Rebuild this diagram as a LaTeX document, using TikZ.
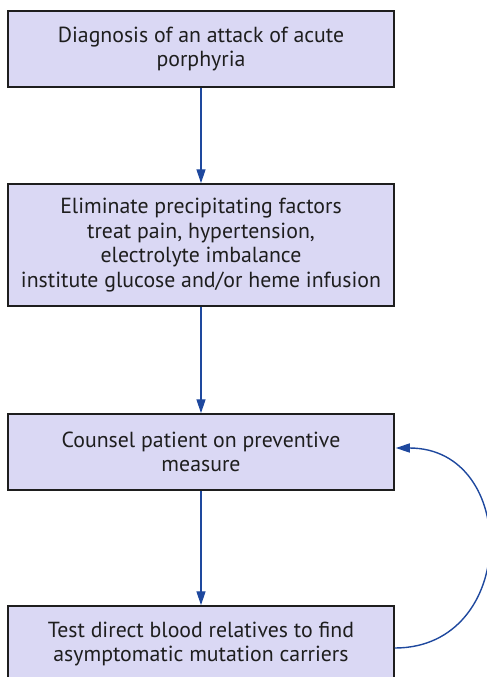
\documentclass[tikz,border=0pt]{standalone}
\usepackage{fontspec}
\setmainfont{PT Sans}
\usepackage{xcolor}
\usepackage{tikz}
\usetikzlibrary{calc}
\usetikzlibrary{arrows.meta}
\definecolor{boxfill}{RGB}{218,216,244}
\definecolor{flowblue}{RGB}{30,72,158}
\definecolor{inkgray}{RGB}{30,30,30}
\tikzset{stagebox/.style={draw=inkgray, line width=1.5pt, fill=boxfill, text=inkgray, minimum width=386pt, align=center, inner sep=0pt, font=\fontsize{21.8}{24.5}\selectfont}}
\tikzset{flow/.style={flowblue, line width=1.4pt, -{Triangle[length=14pt,width=9pt]}}}

\begin{document}
\begin{tikzpicture}[x=1pt,y=1pt]
\useasboundingbox (0,0) rectangle (487,-677);
\node[stagebox, minimum height=76pt] (diag) at (201,-49) {Diagnosis of an attack of acute\\porphyria};
\node[stagebox, minimum height=122pt] (elim) at (201,-245) {Eliminate precipitating factors\\treat pain, hypertension,\\electrolyte imbalance\\institute glucose and/or heme infusion};
\node[stagebox, minimum height=76pt] (coun) at (201,-452) {Counsel patient on preventive\\measure};
\node[stagebox, minimum height=76pt] (test) at (201,-644) {Test direct blood relatives to find\\asymptomatic mutation carriers};

\draw[flow] (diag) -- (elim);
\draw[flow] (elim) -- (coun);
\draw[flow] (coun) -- (test);
% feedback loop on the right
\draw[flow] ([yshift=-4pt]test.east) .. controls +(124,0) and +(124,0) .. ([yshift=4pt,xshift=1pt]coun.east);
\end{tikzpicture}
\end{document}
